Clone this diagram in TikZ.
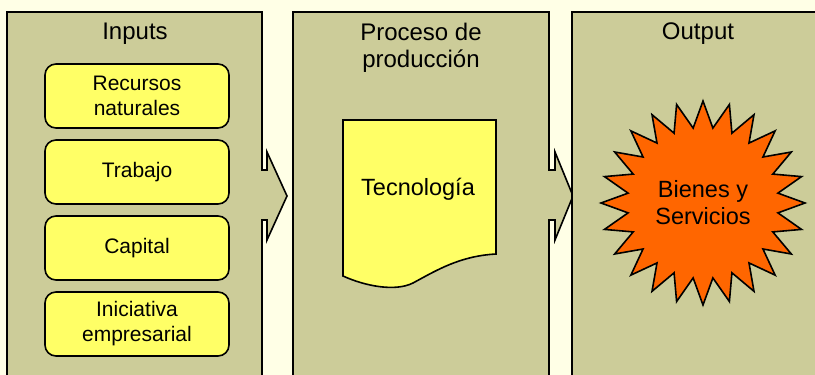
\documentclass[tikz,border=0pt]{standalone}
\usepackage{fontspec}
\setmainfont{Liberation Sans}
\usetikzlibrary{shapes.geometric}
\definecolor{fondo}{HTML}{FFFFE6}
\definecolor{caqui}{HTML}{CCCC99}
\definecolor{amarillo}{HTML}{FFFF66}
\definecolor{naranja}{HTML}{FF6600}

\begin{document}
\begin{tikzpicture}[x=1pt,y=-1pt,
        panel/.style={draw=black, line width=1.6pt, fill=caqui, line join=miter},
        titulo/.style={anchor=north, align=center, inner sep=0pt, font=\fontsize{24}{27}\selectfont},
        recurso/.style={draw=black, line width=1.6pt, fill=amarillo, rounded corners=11pt, minimum width=184pt, minimum height=64pt, align=center, inner sep=0pt, font=\fontsize{21}{25}\selectfont}]
        \clip (0,0) rectangle (815,375); % marco de la figura
        \fill[fondo] (0,0) rectangle (815,375); % fondo crema
        \draw[panel] (7,380) -- (7,12) -- (262,12) -- (262,170) -- (267,170) -- (267,152) -- (287,196) -- (267,240) -- (267,220) -- (262,220) -- (262,380) -- cycle; % panel de inputs con flecha
        \draw[panel] (293,380) -- (293,12) -- (549,12) -- (549,170) -- (555,170) -- (555,152) -- (573,196) -- (555,240) -- (555,220) -- (549,220) -- (549,380) -- cycle; % panel del proceso con flecha
        \draw[panel] (572,380) -- (572,12) -- (820,12) -- (820,380) -- cycle; % panel de output
        \node[titulo] (tin) at (135,23) {Inputs};
        \node[titulo] (tpro) at (421,23) {Proceso de\\producción};
        \node[titulo] (tout) at (698,23) {Output};
        \node[recurso] (rec) at (137,96) {Recursos\\naturales};
        \node[recurso] (tra) at (137,172) {Trabajo};
        \node[recurso] (cap) at (137,248) {Capital};
        \node[recurso] (ini) at (137,324) {Iniciativa\\empresarial};
        \draw[draw=black, line width=1.6pt, fill=amarillo] (343,120) -- (496,120) -- (496,254) .. controls (460,256) and (437,270) .. (413,283) .. controls (395,292) and (365,286) .. (343,276) -- cycle; % hoja de documento
        \node[anchor=base, inner sep=0pt, font=\fontsize{23.5}{27}\selectfont] (tec) at (418,195) {Tecnología};
        \node[star, star points=24, star point ratio=1.35, minimum size=204pt, inner sep=0pt, draw=black, line width=1.6pt, fill=naranja, align=center, font=\fontsize{23.5}{27}\selectfont] (bie) at (703,203) {Bienes y\\Servicios}; % estrella de bienes
    \end{tikzpicture}
\end{document}
